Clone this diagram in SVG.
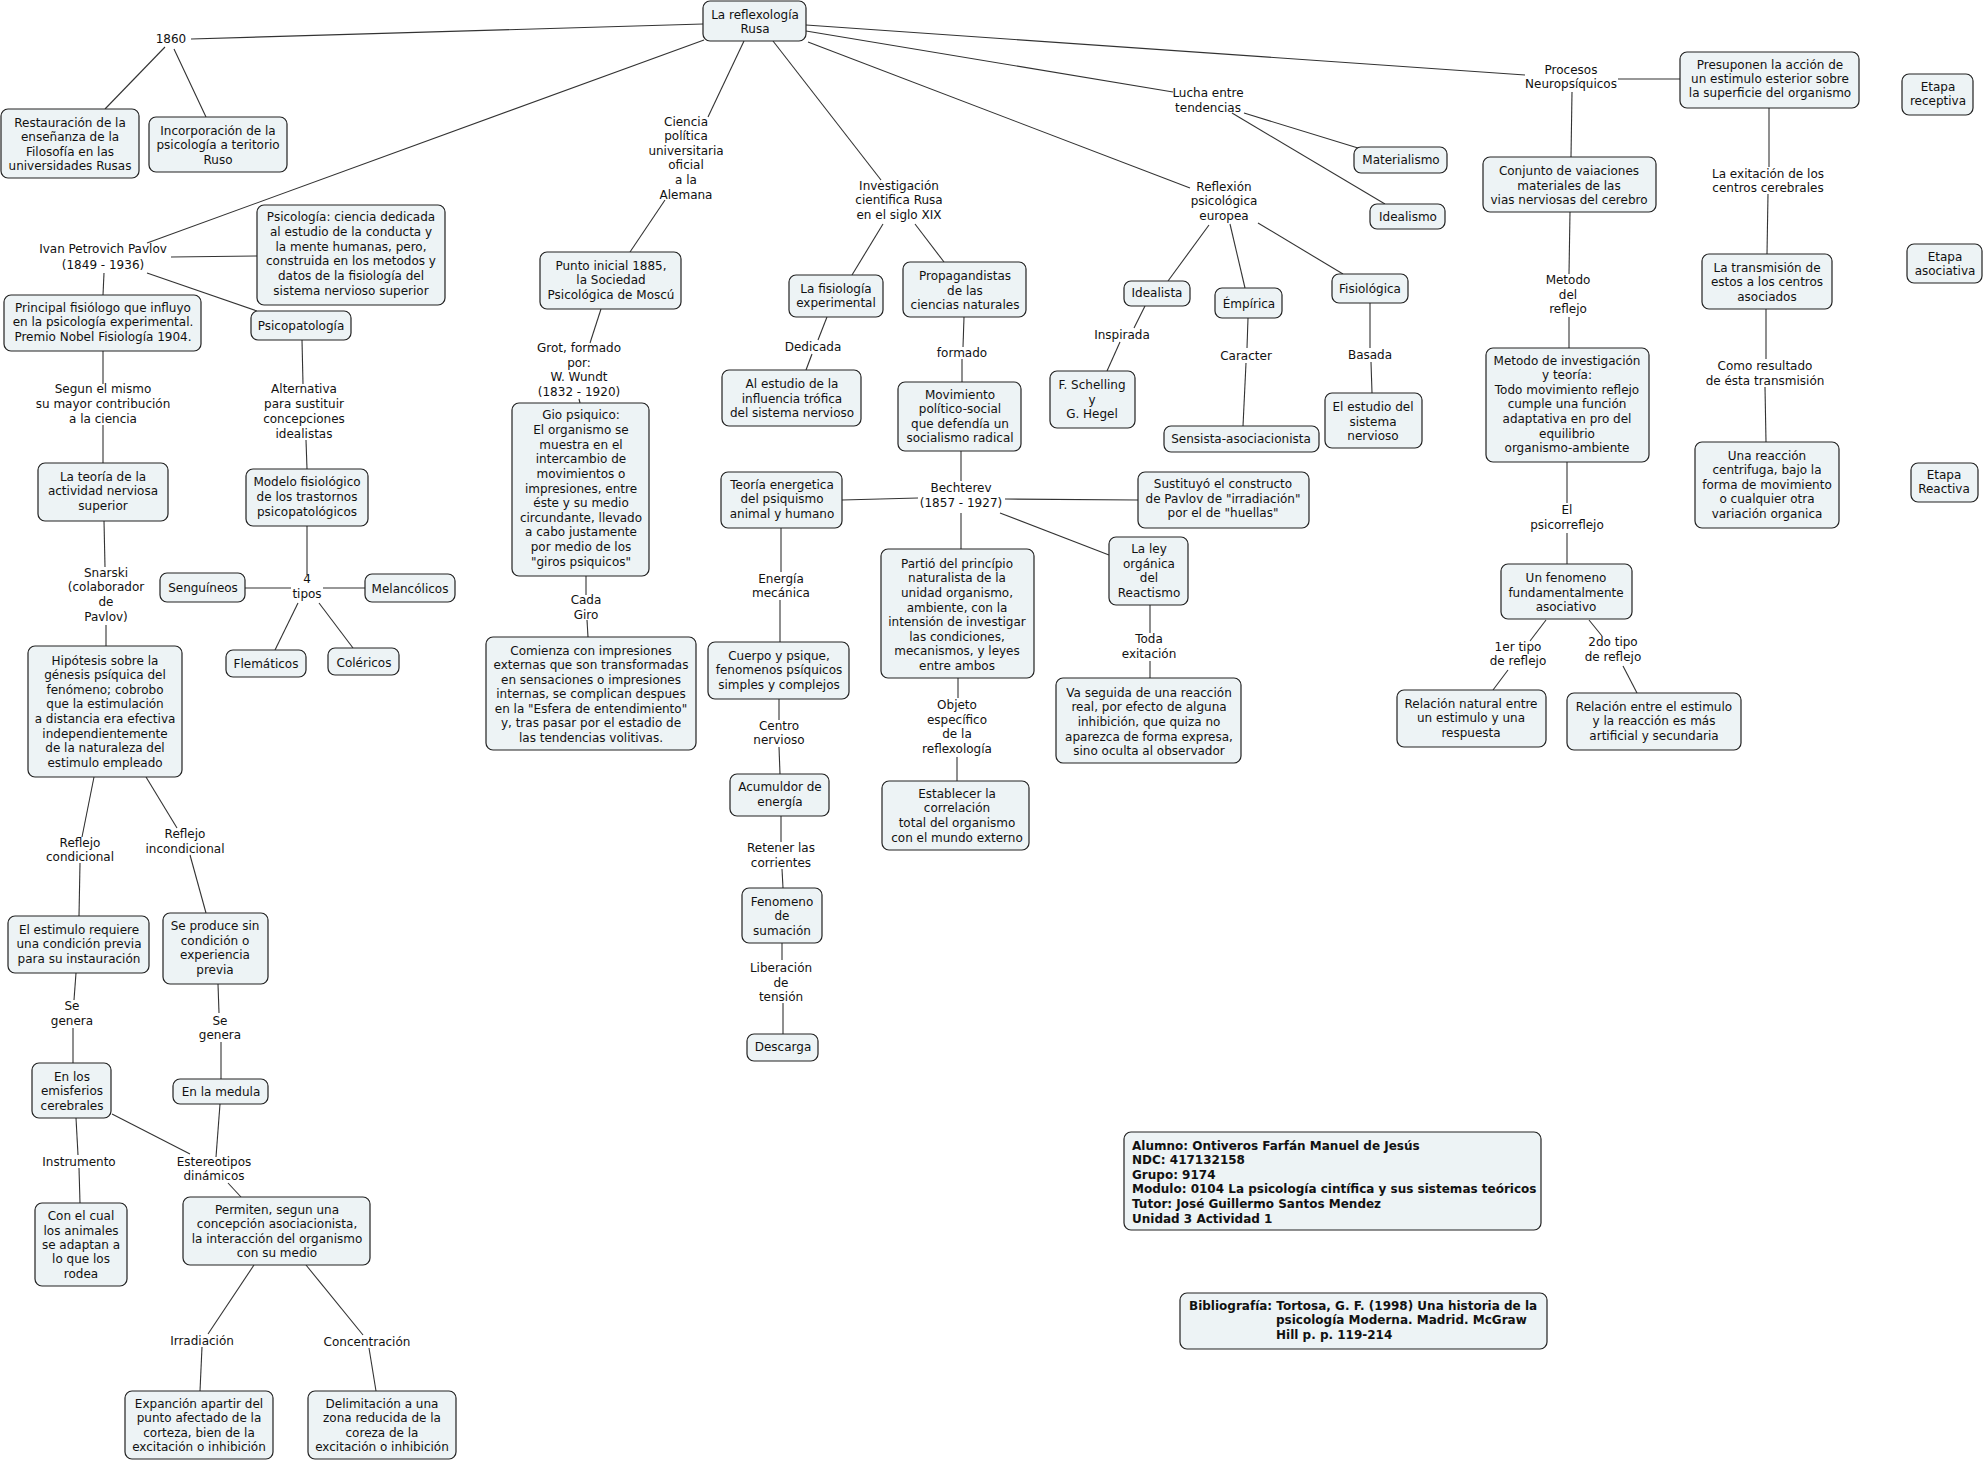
<svg xmlns="http://www.w3.org/2000/svg" width="1985" height="1462" viewBox="0 0 1985 1462">
<style>
.n rect{fill:#edf3f5;stroke:#222;stroke-width:1.2}
text{font-family:"DejaVu Sans",Verdana,sans-serif;font-size:12px;fill:#111;text-anchor:middle}
.b text{font-weight:bold;text-anchor:start}
#connectors line{stroke:#333;stroke-width:1.1}
</style>
<rect width="1985" height="1462" fill="#fff"/>
<g id="connectors">
<line x1="703" y1="24" x2="191" y2="39"/>
<line x1="165" y1="47" x2="105" y2="109"/>
<line x1="174" y1="49" x2="206" y2="117"/>
<line x1="704" y1="40" x2="147" y2="243"/>
<line x1="171" y1="257" x2="257" y2="256"/>
<line x1="104" y1="273" x2="103" y2="295"/>
<line x1="147" y1="273" x2="257" y2="311"/>
<line x1="103" y1="351" x2="103" y2="384"/>
<line x1="103" y1="425" x2="103" y2="463"/>
<line x1="302" y1="340" x2="303" y2="384"/>
<line x1="306" y1="440" x2="307" y2="469"/>
<line x1="104" y1="521" x2="105" y2="567"/>
<line x1="106" y1="625" x2="106" y2="646"/>
<line x1="307" y1="526" x2="307" y2="575"/>
<line x1="291" y1="588" x2="245" y2="588"/>
<line x1="323" y1="588" x2="365" y2="588"/>
<line x1="298" y1="603" x2="275" y2="650"/>
<line x1="319" y1="603" x2="353" y2="648"/>
<line x1="94" y1="777" x2="82" y2="837"/>
<line x1="80" y1="863" x2="79" y2="916"/>
<line x1="146" y1="777" x2="177" y2="828"/>
<line x1="190" y1="855" x2="206" y2="913"/>
<line x1="76" y1="973" x2="74" y2="1000"/>
<line x1="73" y1="1028" x2="73" y2="1063"/>
<line x1="218" y1="984" x2="219" y2="1013"/>
<line x1="221" y1="1042" x2="221" y2="1079"/>
<line x1="76" y1="1118" x2="78" y2="1155"/>
<line x1="79" y1="1168" x2="80" y2="1203"/>
<line x1="112" y1="1114" x2="190" y2="1154"/>
<line x1="220" y1="1104" x2="216" y2="1157"/>
<line x1="228" y1="1183" x2="241" y2="1197"/>
<line x1="254" y1="1265" x2="208" y2="1334"/>
<line x1="202" y1="1347" x2="200" y2="1391"/>
<line x1="306" y1="1265" x2="363" y2="1335"/>
<line x1="369" y1="1348" x2="376" y2="1391"/>
<line x1="744" y1="41" x2="708" y2="117"/>
<line x1="665" y1="200" x2="630" y2="252"/>
<line x1="601" y1="309" x2="590" y2="343"/>
<line x1="579" y1="399" x2="580" y2="403"/>
<line x1="586" y1="576" x2="586" y2="595"/>
<line x1="587" y1="620" x2="588" y2="637"/>
<line x1="773" y1="41" x2="881" y2="180"/>
<line x1="883" y1="224" x2="852" y2="275"/>
<line x1="915" y1="224" x2="944" y2="262"/>
<line x1="827" y1="317" x2="818" y2="340"/>
<line x1="812" y1="354" x2="806" y2="370"/>
<line x1="964" y1="317" x2="963" y2="347"/>
<line x1="962" y1="359" x2="962" y2="382"/>
<line x1="961" y1="451" x2="961" y2="481"/>
<line x1="918" y1="498" x2="842" y2="500"/>
<line x1="1005" y1="499" x2="1138" y2="500"/>
<line x1="1000" y1="513" x2="1109" y2="555"/>
<line x1="961" y1="513" x2="961" y2="549"/>
<line x1="781" y1="528" x2="781" y2="572"/>
<line x1="780" y1="600" x2="780" y2="642"/>
<line x1="779" y1="699" x2="779" y2="720"/>
<line x1="779" y1="747" x2="780" y2="774"/>
<line x1="781" y1="816" x2="781" y2="842"/>
<line x1="782" y1="869" x2="783" y2="888"/>
<line x1="782" y1="943" x2="782" y2="960"/>
<line x1="783" y1="1003" x2="783" y2="1034"/>
<line x1="1150" y1="605" x2="1150" y2="633"/>
<line x1="1150" y1="661" x2="1150" y2="678"/>
<line x1="958" y1="678" x2="958" y2="698"/>
<line x1="957" y1="757" x2="957" y2="781"/>
<line x1="806" y1="31" x2="1173" y2="92"/>
<line x1="1244" y1="113" x2="1358" y2="148"/>
<line x1="1232" y1="113" x2="1385" y2="204"/>
<line x1="808" y1="42" x2="1190" y2="188"/>
<line x1="1209" y1="225" x2="1168" y2="281"/>
<line x1="1230" y1="224" x2="1245" y2="288"/>
<line x1="1258" y1="223" x2="1343" y2="274"/>
<line x1="1145" y1="306" x2="1134" y2="328"/>
<line x1="1120" y1="342" x2="1107" y2="371"/>
<line x1="1248" y1="318" x2="1247" y2="348"/>
<line x1="1246" y1="363" x2="1243" y2="426"/>
<line x1="1370" y1="303" x2="1370" y2="348"/>
<line x1="1371" y1="362" x2="1372" y2="393"/>
<line x1="806" y1="25" x2="1525" y2="75"/>
<line x1="1618" y1="79" x2="1680" y2="79"/>
<line x1="1572" y1="92" x2="1571" y2="157"/>
<line x1="1769" y1="108" x2="1769" y2="167"/>
<line x1="1768" y1="194" x2="1767" y2="254"/>
<line x1="1766" y1="309" x2="1766" y2="359"/>
<line x1="1765" y1="387" x2="1766" y2="442"/>
<line x1="1570" y1="212" x2="1569" y2="274"/>
<line x1="1569" y1="317" x2="1569" y2="348"/>
<line x1="1567" y1="462" x2="1567" y2="503"/>
<line x1="1567" y1="533" x2="1567" y2="564"/>
<line x1="1546" y1="620" x2="1530" y2="641"/>
<line x1="1508" y1="670" x2="1493" y2="690"/>
<line x1="1589" y1="620" x2="1602" y2="636"/>
<line x1="1623" y1="666" x2="1637" y2="693"/>
</g>

<g id="root" class="n"><rect x="703" y="1" width="103" height="40" rx="7"/><text><tspan x="755" y="19">La reflexología</tspan><tspan x="755" y="33">Rusa</tspan></text></g>
<g id="l-1860"><text x="171" y="43">1860</text></g>
<g id="restauracion" class="n"><rect x="1" y="109" width="138" height="69" rx="7"/><text><tspan x="70" y="127">Restauración de la</tspan><tspan x="70" y="141">enseñanza de la</tspan><tspan x="70" y="156">Filosofía en las</tspan><tspan x="70" y="170">universidades Rusas</tspan></text></g>
<g id="incorporacion" class="n"><rect x="149" y="117" width="138" height="55" rx="7"/><text><tspan x="218" y="135">Incorporación de la</tspan><tspan x="218" y="149">psicología a teritorio</tspan><tspan x="218" y="164">Ruso</tspan></text></g>
<g id="l-pavlov"><text><tspan x="103" y="253">Ivan Petrovich Pavlov</tspan><tspan x="103" y="269">(1849 - 1936)</tspan></text></g>
<g id="psicologia" class="n"><rect x="257" y="205" width="188" height="100" rx="7"/><text><tspan x="351" y="221">Psicología: ciencia dedicada</tspan><tspan x="351" y="236">al estudio de la conducta y</tspan><tspan x="351" y="251">la mente humanas, pero,</tspan><tspan x="351" y="265">construida en los metodos y</tspan><tspan x="351" y="280">datos de la fisiología del</tspan><tspan x="351" y="295">sistema nervioso superior</tspan></text></g>
<g id="principal" class="n"><rect x="4" y="295" width="197" height="56" rx="7"/><text><tspan x="103" y="312">Principal fisiólogo que influyo</tspan><tspan x="103" y="326">en la psicología experimental.</tspan><tspan x="103" y="341">Premio Nobel Fisiología 1904.</tspan></text></g>
<g id="psicopatologia" class="n"><rect x="251" y="311" width="100" height="29" rx="7"/><text x="301" y="330">Psicopatología</text></g>
<g id="l-segun"><text><tspan x="103" y="393">Segun el mismo</tspan><tspan x="103" y="408">su mayor contribución</tspan><tspan x="103" y="423">a la ciencia</tspan></text></g>
<g id="l-alternativa"><text><tspan x="304" y="393">Alternativa</tspan><tspan x="304" y="408">para sustituir</tspan><tspan x="304" y="423">concepciones</tspan><tspan x="304" y="438">idealistas</tspan></text></g>
<g id="teoria" class="n"><rect x="38" y="463" width="130" height="58" rx="7"/><text><tspan x="103" y="481">La teoría de la</tspan><tspan x="103" y="495">actividad nerviosa</tspan><tspan x="103" y="510">superior</tspan></text></g>
<g id="modelo" class="n"><rect x="246" y="469" width="122" height="57" rx="7"/><text><tspan x="307" y="486">Modelo fisiológico</tspan><tspan x="307" y="501">de los trastornos</tspan><tspan x="307" y="516">psicopatológicos</tspan></text></g>
<g id="l-4tipos"><text><tspan x="307" y="583">4</tspan><tspan x="307" y="598">tipos</tspan></text></g>
<g id="senguineos" class="n"><rect x="160" y="573" width="85" height="29" rx="7"/><text x="203" y="592">Senguíneos</text></g>
<g id="melancolicos" class="n"><rect x="365" y="574" width="90" height="28" rx="7"/><text x="410" y="593">Melancólicos</text></g>
<g id="flematicos" class="n"><rect x="226" y="650" width="80" height="27" rx="7"/><text x="266" y="668">Flemáticos</text></g>
<g id="colericos" class="n"><rect x="328" y="648" width="71" height="27" rx="7"/><text x="364" y="667">Coléricos</text></g>
<g id="l-snarski"><text><tspan x="106" y="577">Snarski</tspan><tspan x="106" y="591">(colaborador</tspan><tspan x="106" y="606">de</tspan><tspan x="106" y="621">Pavlov)</tspan></text></g>
<g id="hipotesis" class="n"><rect x="28" y="646" width="154" height="131" rx="7"/><text><tspan x="105" y="665">Hipótesis sobre la</tspan><tspan x="105" y="679">génesis psíquica del</tspan><tspan x="105" y="694">fenómeno; cobrobo</tspan><tspan x="105" y="708">que la estimulación</tspan><tspan x="105" y="723">a distancia era efectiva</tspan><tspan x="105" y="738">independientemente</tspan><tspan x="105" y="752">de la naturaleza del</tspan><tspan x="105" y="767">estimulo empleado</tspan></text></g>
<g id="l-refcond"><text><tspan x="80" y="847">Reflejo</tspan><tspan x="80" y="861">condicional</tspan></text></g>
<g id="l-refincond"><text><tspan x="185" y="838">Reflejo</tspan><tspan x="185" y="853">incondicional</tspan></text></g>
<g id="elestimulo" class="n"><rect x="8" y="916" width="141" height="57" rx="7"/><text><tspan x="79" y="934">El estimulo requiere</tspan><tspan x="79" y="948">una condición previa</tspan><tspan x="79" y="963">para su instauración</tspan></text></g>
<g id="seproduce" class="n"><rect x="163" y="913" width="105" height="71" rx="7"/><text><tspan x="215" y="930">Se produce sin</tspan><tspan x="215" y="945">condición o</tspan><tspan x="215" y="959">experiencia</tspan><tspan x="215" y="974">previa</tspan></text></g>
<g id="l-segenera1"><text><tspan x="72" y="1010">Se</tspan><tspan x="72" y="1025">genera</tspan></text></g>
<g id="l-segenera2"><text><tspan x="220" y="1025">Se</tspan><tspan x="220" y="1039">genera</tspan></text></g>
<g id="emisferios" class="n"><rect x="32" y="1063" width="79" height="55" rx="7"/><text><tspan x="72" y="1081">En los</tspan><tspan x="72" y="1095">emisferios</tspan><tspan x="72" y="1110">cerebrales</tspan></text></g>
<g id="medula" class="n"><rect x="173" y="1079" width="95" height="25" rx="7"/><text x="221" y="1096">En la medula</text></g>
<g id="l-instrumento"><text x="79" y="1166">Instrumento</text></g>
<g id="l-estereotipos"><text><tspan x="214" y="1166">Estereotipos</tspan><tspan x="214" y="1180">dinámicos</tspan></text></g>
<g id="conelcual" class="n"><rect x="35" y="1203" width="92" height="83" rx="7"/><text><tspan x="81" y="1220">Con el cual</tspan><tspan x="81" y="1235">los animales</tspan><tspan x="81" y="1249">se adaptan a</tspan><tspan x="81" y="1263">lo que los</tspan><tspan x="81" y="1278">rodea</tspan></text></g>
<g id="permiten" class="n"><rect x="183" y="1197" width="187" height="68" rx="7"/><text><tspan x="277" y="1214">Permiten, segun una</tspan><tspan x="277" y="1228">concepción asociacionista,</tspan><tspan x="277" y="1243">la interacción del organismo</tspan><tspan x="277" y="1257">con su medio</tspan></text></g>
<g id="l-irradiacion"><text x="202" y="1345">Irradiación</text></g>
<g id="l-concentracion"><text x="367" y="1346">Concentración</text></g>
<g id="expancion" class="n"><rect x="125" y="1391" width="148" height="68" rx="7"/><text><tspan x="199" y="1408">Expanción apartir del</tspan><tspan x="199" y="1422">punto afectado de la</tspan><tspan x="199" y="1437">corteza, bien de la</tspan><tspan x="199" y="1451">excitación o inhibición</tspan></text></g>
<g id="delimitacion" class="n"><rect x="308" y="1391" width="148" height="68" rx="7"/><text><tspan x="382" y="1408">Delimitación a una</tspan><tspan x="382" y="1422">zona reducida de la</tspan><tspan x="382" y="1437">coreza de la</tspan><tspan x="382" y="1451">excitación o inhibición</tspan></text></g>

<g id="l-ciencia"><text><tspan x="686" y="126">Ciencia</tspan><tspan x="686" y="140">política</tspan><tspan x="686" y="155">universitaria</tspan><tspan x="686" y="169">oficial</tspan><tspan x="686" y="184">a la</tspan><tspan x="686" y="199">Alemana</tspan></text></g>
<g id="punto" class="n"><rect x="540" y="252" width="141" height="57" rx="7"/><text><tspan x="611" y="270">Punto inicial 1885,</tspan><tspan x="611" y="284">la Sociedad</tspan><tspan x="611" y="299">Psicológica de Moscú</tspan></text></g>
<g id="l-grot"><text><tspan x="579" y="352">Grot, formado</tspan><tspan x="579" y="367">por:</tspan><tspan x="579" y="381">W. Wundt</tspan><tspan x="579" y="396">(1832 - 1920)</tspan></text></g>
<g id="gio" class="n"><rect x="512" y="403" width="137" height="173" rx="7"/><text><tspan x="581" y="419">Gio psiquico:</tspan><tspan x="581" y="434">El organismo se</tspan><tspan x="581" y="449">muestra en el</tspan><tspan x="581" y="463">intercambio de</tspan><tspan x="581" y="478">movimientos o</tspan><tspan x="581" y="493">impresiones, entre</tspan><tspan x="581" y="507">éste y su medio</tspan><tspan x="581" y="522">circundante, llevado</tspan><tspan x="581" y="536">a cabo justamente</tspan><tspan x="581" y="551">por medio de los</tspan><tspan x="581" y="566">"giros psiquicos"</tspan></text></g>
<g id="l-cadagiro"><text><tspan x="586" y="604">Cada</tspan><tspan x="586" y="619">Giro</tspan></text></g>
<g id="comienza" class="n"><rect x="486" y="637" width="210" height="113" rx="7"/><text><tspan x="591" y="655">Comienza con impresiones</tspan><tspan x="591" y="669">externas que son transformadas</tspan><tspan x="591" y="684">en sensaciones o impresiones</tspan><tspan x="591" y="698">internas, se complican despues</tspan><tspan x="591" y="713">en la "Esfera de entendimiento"</tspan><tspan x="591" y="727">y, tras pasar por el estadio de</tspan><tspan x="591" y="742">las tendencias volitivas.</tspan></text></g>
<g id="l-investigacion"><text><tspan x="899" y="190">Investigación</tspan><tspan x="899" y="204">cientifica Rusa</tspan><tspan x="899" y="219">en el siglo XIX</tspan></text></g>
<g id="fisiologiaexp" class="n"><rect x="789" y="275" width="94" height="42" rx="7"/><text><tspan x="836" y="293">La fisiología</tspan><tspan x="836" y="307">experimental</tspan></text></g>
<g id="propagandistas" class="n"><rect x="903" y="262" width="123" height="55" rx="7"/><text><tspan x="965" y="280">Propagandistas</tspan><tspan x="965" y="295">de las</tspan><tspan x="965" y="309">ciencias naturales</tspan></text></g>
<g id="l-dedicada"><text x="813" y="351">Dedicada</text></g>
<g id="alestudio" class="n"><rect x="722" y="370" width="139" height="56" rx="7"/><text><tspan x="792" y="388">Al estudio de la</tspan><tspan x="792" y="403">influencia trófica</tspan><tspan x="792" y="417">del sistema nervioso</tspan></text></g>
<g id="l-formado"><text x="962" y="357">formado</text></g>
<g id="movimiento" class="n"><rect x="898" y="382" width="123" height="69" rx="7"/><text><tspan x="960" y="399">Movimiento</tspan><tspan x="960" y="413">político-social</tspan><tspan x="960" y="428">que defendía un</tspan><tspan x="960" y="442">socialismo radical</tspan></text></g>
<g id="l-bechterev"><text><tspan x="961" y="492">Bechterev</tspan><tspan x="961" y="507">(1857 - 1927)</tspan></text></g>
<g id="teoriaenergetica" class="n"><rect x="721" y="472" width="121" height="56" rx="7"/><text><tspan x="782" y="489">Teoría energetica</tspan><tspan x="782" y="503">del psiquismo</tspan><tspan x="782" y="518">animal y humano</tspan></text></g>
<g id="sustituyo" class="n"><rect x="1138" y="472" width="171" height="56" rx="7"/><text><tspan x="1223" y="488">Sustituyó el constructo</tspan><tspan x="1223" y="503">de Pavlov de "irradiación"</tspan><tspan x="1223" y="517">por el de "huellas"</tspan></text></g>
<g id="partio" class="n"><rect x="881" y="549" width="153" height="129" rx="7"/><text><tspan x="957" y="568">Partió del princípio</tspan><tspan x="957" y="582">naturalista de la</tspan><tspan x="957" y="597">unidad organismo,</tspan><tspan x="957" y="612">ambiente, con la</tspan><tspan x="957" y="626">intensión de investigar</tspan><tspan x="957" y="641">las condiciones,</tspan><tspan x="957" y="655">mecanismos, y leyes</tspan><tspan x="957" y="670">entre ambos</tspan></text></g>
<g id="laley" class="n"><rect x="1109" y="537" width="79" height="68" rx="7"/><text><tspan x="1149" y="553">La ley</tspan><tspan x="1149" y="568">orgánica</tspan><tspan x="1149" y="582">del</tspan><tspan x="1149" y="597">Reactismo</tspan></text></g>
<g id="l-toda"><text><tspan x="1149" y="643">Toda</tspan><tspan x="1149" y="658">exitación</tspan></text></g>
<g id="vaseguida" class="n"><rect x="1056" y="678" width="185" height="85" rx="7"/><text><tspan x="1149" y="697">Va seguida de una reacción</tspan><tspan x="1149" y="711">real, por efecto de alguna</tspan><tspan x="1149" y="726">inhibición, que quiza no</tspan><tspan x="1149" y="741">aparezca de forma expresa,</tspan><tspan x="1149" y="755">sino oculta al observador</tspan></text></g>
<g id="l-objeto"><text><tspan x="957" y="709">Objeto</tspan><tspan x="957" y="724">específico</tspan><tspan x="957" y="738">de la</tspan><tspan x="957" y="753">reflexología</tspan></text></g>
<g id="establecer" class="n"><rect x="882" y="781" width="147" height="69" rx="7"/><text><tspan x="957" y="798">Establecer la</tspan><tspan x="957" y="812">correlación</tspan><tspan x="957" y="827">total del organismo</tspan><tspan x="957" y="842">con el mundo externo</tspan></text></g>
<g id="l-energia"><text><tspan x="781" y="583">Energía</tspan><tspan x="781" y="597">mecánica</tspan></text></g>
<g id="cuerpo" class="n"><rect x="708" y="642" width="141" height="57" rx="7"/><text><tspan x="779" y="660">Cuerpo y psique,</tspan><tspan x="779" y="674">fenomenos psíquicos</tspan><tspan x="779" y="689">simples y complejos</tspan></text></g>
<g id="l-centro"><text><tspan x="779" y="730">Centro</tspan><tspan x="779" y="744">nervioso</tspan></text></g>
<g id="acumuldor" class="n"><rect x="730" y="774" width="99" height="42" rx="7"/><text><tspan x="780" y="791">Acumuldor de</tspan><tspan x="780" y="806">energía</tspan></text></g>
<g id="l-retener"><text><tspan x="781" y="852">Retener las</tspan><tspan x="781" y="867">corrientes</tspan></text></g>
<g id="fenomeno" class="n"><rect x="742" y="888" width="80" height="55" rx="7"/><text><tspan x="782" y="906">Fenomeno</tspan><tspan x="782" y="920">de</tspan><tspan x="782" y="935">sumación</tspan></text></g>
<g id="l-liberacion"><text><tspan x="781" y="972">Liberación</tspan><tspan x="781" y="987">de</tspan><tspan x="781" y="1001">tensión</tspan></text></g>
<g id="descarga" class="n"><rect x="747" y="1034" width="71" height="27" rx="7"/><text x="783" y="1051">Descarga</text></g>

<g id="l-lucha"><text><tspan x="1208" y="97">Lucha entre</tspan><tspan x="1208" y="112">tendencias</tspan></text></g>
<g id="materialismo" class="n"><rect x="1354" y="147" width="93" height="26" rx="7"/><text x="1401" y="164">Materialismo</text></g>
<g id="idealismo" class="n"><rect x="1370" y="204" width="75" height="25" rx="7"/><text x="1408" y="221">Idealismo</text></g>
<g id="l-reflexion"><text><tspan x="1224" y="191">Reflexión</tspan><tspan x="1224" y="205">psicológica</tspan><tspan x="1224" y="220">europea</tspan></text></g>
<g id="idealista" class="n"><rect x="1124" y="281" width="66" height="25" rx="7"/><text x="1157" y="297">Idealista</text></g>
<g id="empirica" class="n"><rect x="1215" y="288" width="67" height="30" rx="7"/><text x="1249" y="308">Émpírica</text></g>
<g id="fisiologica" class="n"><rect x="1332" y="274" width="76" height="29" rx="7"/><text x="1370" y="293">Fisiológica</text></g>
<g id="l-inspirada"><text x="1122" y="339">Inspirada</text></g>
<g id="schelling" class="n"><rect x="1050" y="371" width="85" height="57" rx="7"/><text><tspan x="1092" y="389">F. Schelling</tspan><tspan x="1092" y="404">y</tspan><tspan x="1092" y="418">G. Hegel</tspan></text></g>
<g id="l-caracter"><text x="1246" y="360">Caracter</text></g>
<g id="sensista" class="n"><rect x="1164" y="426" width="155" height="26" rx="7"/><text x="1241" y="443">Sensista-asociacionista</text></g>
<g id="l-basada"><text x="1370" y="359">Basada</text></g>
<g id="elestudiosn" class="n"><rect x="1325" y="393" width="97" height="55" rx="7"/><text><tspan x="1373" y="411">El estudio del</tspan><tspan x="1373" y="426">sistema</tspan><tspan x="1373" y="440">nervioso</tspan></text></g>

<g id="l-procesos"><text><tspan x="1571" y="74">Procesos</tspan><tspan x="1571" y="88">Neuropsíquicos</tspan></text></g>
<g id="presuponen" class="n"><rect x="1680" y="52" width="179" height="56" rx="7"/><text><tspan x="1770" y="69">Presuponen la acción de</tspan><tspan x="1770" y="83">un estimulo esterior sobre</tspan><tspan x="1770" y="97">la superficie del organismo</tspan></text></g>
<g id="etapareceptiva" class="n"><rect x="1902" y="74" width="71" height="41" rx="7"/><text><tspan x="1938" y="91">Etapa</tspan><tspan x="1938" y="105">receptiva</tspan></text></g>
<g id="l-exitacion"><text><tspan x="1768" y="178">La exitación de los</tspan><tspan x="1768" y="192">centros cerebrales</tspan></text></g>
<g id="transmision" class="n"><rect x="1702" y="254" width="130" height="55" rx="7"/><text><tspan x="1767" y="272">La transmisión de</tspan><tspan x="1767" y="286">estos a los centros</tspan><tspan x="1767" y="301">asociados</tspan></text></g>
<g id="etapaasociativa" class="n"><rect x="1907" y="244" width="75" height="39" rx="7"/><text><tspan x="1945" y="261">Etapa</tspan><tspan x="1945" y="275">asociativa</tspan></text></g>
<g id="l-como"><text><tspan x="1765" y="370">Como resultado</tspan><tspan x="1765" y="385">de ésta transmisión</tspan></text></g>
<g id="unareaccion" class="n"><rect x="1695" y="442" width="144" height="86" rx="7"/><text><tspan x="1767" y="460">Una reacción</tspan><tspan x="1767" y="474">centrifuga, bajo la</tspan><tspan x="1767" y="489">forma de movimiento</tspan><tspan x="1767" y="503">o cualquier otra</tspan><tspan x="1767" y="518">variación organica</tspan></text></g>
<g id="etapareactiva" class="n"><rect x="1911" y="463" width="67" height="39" rx="7"/><text><tspan x="1944" y="479">Etapa</tspan><tspan x="1944" y="493">Reactiva</tspan></text></g>
<g id="conjunto" class="n"><rect x="1483" y="157" width="173" height="55" rx="7"/><text><tspan x="1569" y="175">Conjunto de vaiaciones</tspan><tspan x="1569" y="190">materiales de las</tspan><tspan x="1569" y="204">vias nerviosas del cerebro</tspan></text></g>
<g id="l-metodo"><text><tspan x="1568" y="284">Metodo</tspan><tspan x="1568" y="299">del</tspan><tspan x="1568" y="313">reflejo</tspan></text></g>
<g id="metodoinv" class="n"><rect x="1486" y="348" width="163" height="114" rx="7"/><text><tspan x="1567" y="365">Metodo de investigación</tspan><tspan x="1567" y="379">y teoría:</tspan><tspan x="1567" y="394">Todo movimiento reflejo</tspan><tspan x="1567" y="408">cumple una función</tspan><tspan x="1567" y="423">adaptativa en pro del</tspan><tspan x="1567" y="438">equilibrio</tspan><tspan x="1567" y="452">organismo-ambiente</tspan></text></g>
<g id="l-psicorreflejo"><text><tspan x="1567" y="514">El</tspan><tspan x="1567" y="529">psicorreflejo</tspan></text></g>
<g id="unfenomeno" class="n"><rect x="1501" y="564" width="131" height="55" rx="7"/><text><tspan x="1566" y="582">Un fenomeno</tspan><tspan x="1566" y="597">fundamentalmente</tspan><tspan x="1566" y="611">asociativo</tspan></text></g>
<g id="l-1er"><text><tspan x="1518" y="651">1er tipo</tspan><tspan x="1518" y="665">de reflejo</tspan></text></g>
<g id="l-2do"><text><tspan x="1613" y="646">2do tipo</tspan><tspan x="1613" y="661">de reflejo</tspan></text></g>
<g id="relnatural" class="n"><rect x="1397" y="690" width="149" height="57" rx="7"/><text><tspan x="1471" y="708">Relación natural entre</tspan><tspan x="1471" y="722">un estimulo y una</tspan><tspan x="1471" y="737">respuesta</tspan></text></g>
<g id="relentre" class="n"><rect x="1567" y="693" width="174" height="57" rx="7"/><text><tspan x="1654" y="711">Relación entre el estimulo</tspan><tspan x="1654" y="725">y la reacción es más</tspan><tspan x="1654" y="740">artificial y secundaria</tspan></text></g>

<g id="alumno" class="n b"><rect x="1124" y="1132" width="417" height="98" rx="7"/><text><tspan x="1132" y="1150">Alumno: Ontiveros Farfán Manuel de Jesús</tspan><tspan x="1132" y="1164">NDC: 417132158</tspan><tspan x="1132" y="1179">Grupo: 9174</tspan><tspan x="1132" y="1193">Modulo: 0104 La psicología cintífica y sus sistemas teóricos</tspan><tspan x="1132" y="1208">Tutor: José Guillermo Santos Mendez</tspan><tspan x="1132" y="1223">Unidad 3 Actividad 1</tspan></text></g>
<g id="bibliografia" class="n b"><rect x="1180" y="1293" width="367" height="56" rx="7"/><text><tspan x="1189" y="1310">Bibliografía: Tortosa, G. F. (1998) Una historia de la</tspan><tspan x="1276" y="1324">psicología Moderna. Madrid. McGraw</tspan><tspan x="1276" y="1339">Hill p. p. 119-214</tspan></text></g>
</svg>
